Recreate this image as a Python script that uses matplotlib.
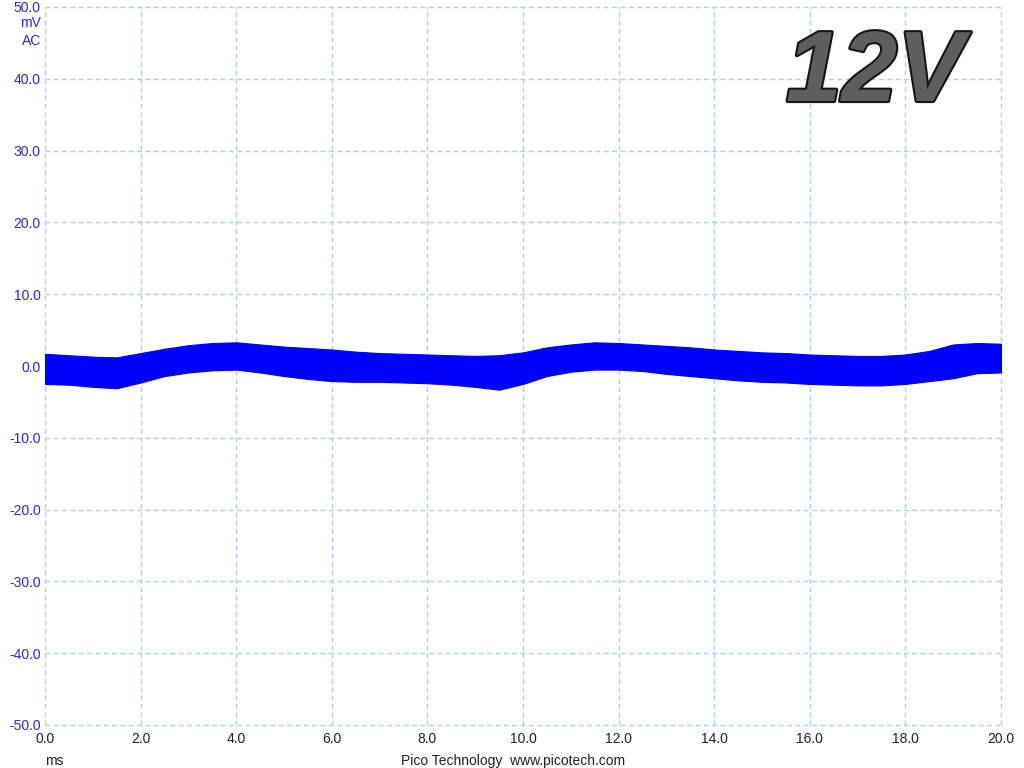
import matplotlib
matplotlib.use("Agg")
import matplotlib.pyplot as plt
import matplotlib.patheffects as pe

plt.rcParams['font.family'] = ['Liberation Sans', 'DejaVu Sans']

# envelope of the noisy trace, every 0.5 ms
tiempo_ms = [0.0, 0.5, 1.0, 1.5, 2.0, 2.5, 3.0, 3.5, 4.0, 4.5,
             5.0, 5.5, 6.0, 6.5, 7.0, 7.5, 8.0, 8.5, 9.0, 9.5,
             10.0, 10.5, 11.0, 11.5, 12.0, 12.5, 13.0, 13.5, 14.0, 14.5,
             15.0, 15.5, 16.0, 16.5, 17.0, 17.5, 18.0, 18.5, 19.0, 19.5, 20.0]
sup_mv = [1.7, 1.5, 1.3, 1.2, 1.8, 2.4, 2.9, 3.2, 3.3, 3.0,
          2.7, 2.5, 2.3, 2.0, 1.8, 1.7, 1.6, 1.5, 1.4, 1.5,
          1.9, 2.6, 3.0, 3.3, 3.2, 3.0, 2.8, 2.6, 2.3, 2.1,
          1.9, 1.8, 1.6, 1.5, 1.4, 1.4, 1.6, 2.1, 3.0, 3.2, 3.1]
inf_mv = [-2.5, -2.6, -2.9, -3.1, -2.3, -1.4, -0.9, -0.6, -0.5, -0.9,
          -1.4, -1.8, -2.1, -2.2, -2.2, -2.3, -2.4, -2.6, -2.9, -3.3,
          -2.5, -1.4, -0.8, -0.5, -0.5, -0.7, -1.1, -1.4, -1.7, -2.0,
          -2.2, -2.3, -2.5, -2.6, -2.7, -2.7, -2.5, -2.1, -1.7, -1.0, -0.9]

xticks = [0, 2, 4, 6, 8, 10, 12, 14, 16, 18, 20]
yticks = [-50, -40, -30, -20, -10, 0, 10, 20, 30, 40, 50]

azul = "#0000ff"
azul_txt = "#2a2ad8"
grade = "#a6d2ee"

fig = plt.figure(figsize=(10.24, 7.68), dpi=100)
ax = fig.add_axes([45 / 1024, 1 - 725 / 768, 956 / 1024, 718 / 768])

ax.fill_between(tiempo_ms, inf_mv, sup_mv, color=azul, linewidth=0.8,
                edgecolor=azul, zorder=3)

ax.set_xlim(0, 20)
ax.set_ylim(-50, 50)
ax.set_xticks(xticks)
ax.set_yticks(yticks)
ax.set_xticklabels([f"{v:.1f}" for v in xticks])
ax.set_yticklabels([f"{v:.1f}" for v in yticks])
ax.tick_params(axis="both", length=0, labelsize=10)
ax.tick_params(axis="y", labelcolor=azul_txt, pad=3)
ax.tick_params(axis="x", labelcolor="#222222", pad=5)

ax.grid(True, color=grade, linestyle=(0, (3.5, 2.5)), linewidth=1.0)
for linea in ax.get_xgridlines() + ax.get_ygridlines():
    linea.set_clip_on(False)
for s in ax.spines.values():
    s.set_visible(False)

# unidades
fig.text(41 / 1024, 1 - 23 / 768, "mV", color=azul_txt, fontsize=10,
         ha="right", va="center")
fig.text(41 / 1024, 1 - 41 / 768, "AC", color=azul_txt, fontsize=10,
         ha="right", va="center")
fig.text(54 / 1024, 1 - 761 / 768, "ms", color="#222222", fontsize=10,
         ha="center", va="center")
fig.text(513 / 1024, 1 - 761 / 768, "Pico Technology  www.picotech.com",
         color="#222222", fontsize=10, ha="center", va="center")

# rotulo 12V
fig.text(875 / 1024, 1 - 75 / 768, "12V", fontsize=72, fontweight="bold",
         fontstyle="italic", color="#5e5e5e", ha="center", va="center",
         path_effects=[pe.Stroke(linewidth=3, foreground="#151515"),
                       pe.Normal()])

fig.savefig("out.png", dpi=100)
